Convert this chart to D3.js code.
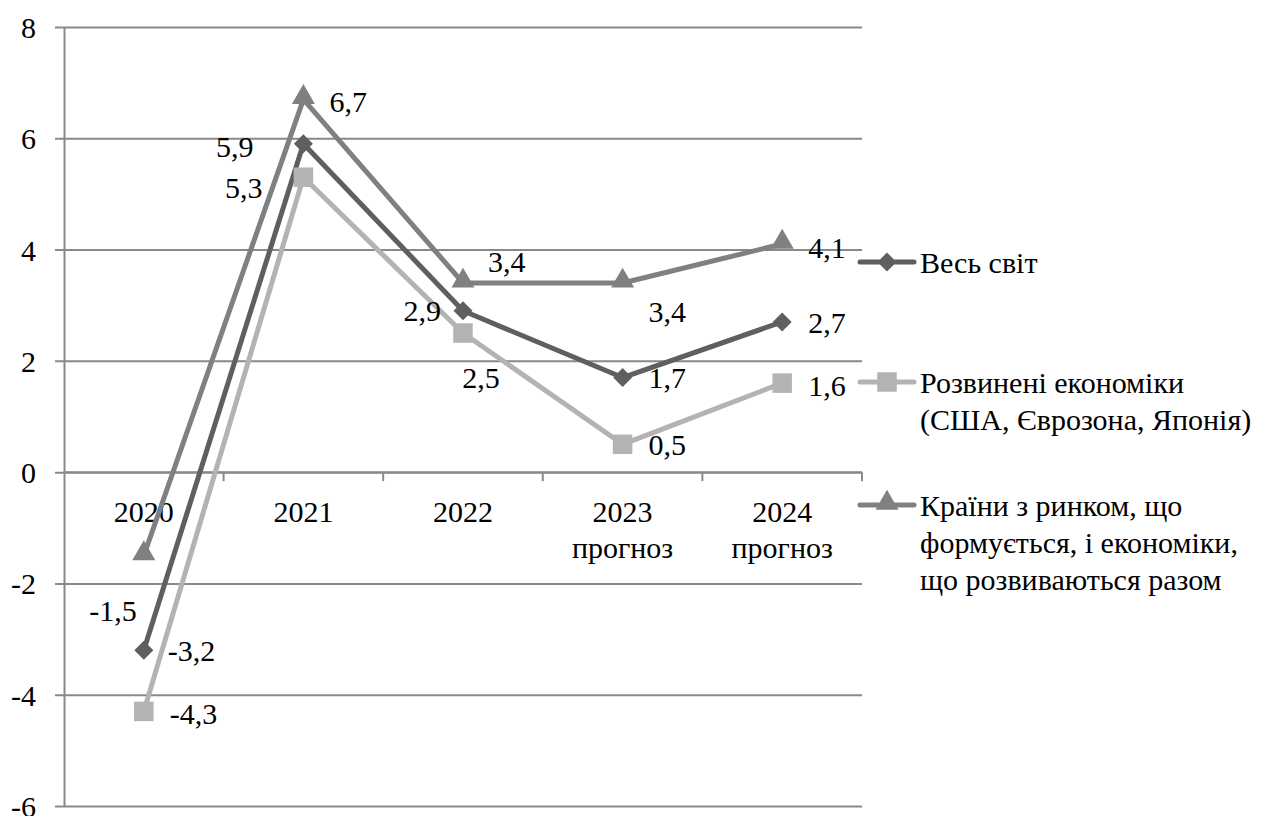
<!DOCTYPE html>
<html>
<head>
<meta charset="utf-8">
<script src="https://cdn.jsdelivr.net/npm/d3@7"></script>
<style>
  body { margin: 0; background: #fff; font-family: "Liberation Serif", Tinos, "Times New Roman", serif; }
  #wrap { width: 1276px; height: 816px; }
  #chart text { font-family: "Liberation Serif", Tinos, "Times New Roman", serif; }
</style>
</head>
<body>
<div id="wrap"><svg id="chart"></svg></div>
<script>
// data
var categories = ["2020", "2021", "2022", "2023", "2024"];
var catSub = ["", "", "", "прогноз", "прогноз"];
var world = [-3.2, 5.9, 2.9, 1.7, 2.7];
var developed = [-4.3, 5.3, 2.5, 0.5, 1.6];
var emerging = [-1.5, 6.7, 3.4, 3.4, 4.1];
var seriesNames = [
  ["Весь світ"],
  ["Розвинені економіки", "(США, Єврозона, Японія)"],
  ["Країни з ринком, що", "формується, і економіки,", "що розвиваються разом"]
];
var yTicks = [-6, -4, -2, 0, 2, 4, 6, 8];

var W = 1276, H = 816;
var plotL = 64, plotR = 862, plotT = 27, plotB = 806;
var FONT = 'Liberation Serif, Tinos, Times New Roman, serif';

var svg = d3.select('#chart').attr('width', W).attr('height', H)
  .attr('font-family', FONT);

function serif(sel) {
  return sel.attr('font-family', FONT).attr('fill', '#000');
}

var x = d3.scaleBand().domain(categories).range([plotL, plotR]);
var y = d3.scaleLinear().domain([-6, 8]).range([plotB, plotT]);

var gridColor = '#898989';

// horizontal gridlines + y labels
svg.append('g').attr('class', 'y-axis')
  .attr('transform', 'translate(' + plotL + ',0)')
  .call(d3.axisLeft(y).tickValues(yTicks).tickSize(-(plotR - plotL)).tickSizeOuter(0)
    .tickFormat(function(d) { return d; }))
  .attr('font-family', FONT)
  .call(function(g) {
    g.select('.domain').attr('stroke', gridColor).attr('stroke-width', 2);
    g.selectAll('.tick line').attr('stroke', gridColor).attr('stroke-width', 2)
      .attr('x1', -9);
    g.selectAll('.tick text').attr('x', -28).attr('font-size', 30)
      .attr('dy', '0.35em').call(serif);
  });

// category axis at y = 0
var xAxis = svg.append('g').attr('class', 'x-axis')
  .attr('transform', 'translate(0,' + y(0) + ')');
xAxis.append('line').attr('x1', plotL).attr('x2', plotR)
  .attr('stroke', gridColor).attr('stroke-width', 2);
var edges = categories.map(function(c) { return x(c); }).concat([plotR]);
xAxis.selectAll('.tk').data(edges.slice(1)).enter().append('line')
  .attr('x1', function(d) { return d; }).attr('x2', function(d) { return d; })
  .attr('y1', 0).attr('y2', 9).attr('stroke', gridColor).attr('stroke-width', 2);
var catLab = xAxis.selectAll('.cat').data(categories).enter().append('text')
  .attr('x', function(d) { return x(d) + x.bandwidth() / 2; })
  .attr('y', 50).attr('text-anchor', 'middle').attr('font-size', 30)
  .call(serif);
catLab.append('tspan').text(function(d) { return d; });
catLab.append('tspan')
  .attr('x', function(d) { return x(d) + x.bandwidth() / 2; })
  .attr('dy', 36).text(function(d, i) { return catSub[i]; });

var cx = function(i) { return x(categories[i]) + x.bandwidth() / 2; };

var series = [
  { values: world, color: '#5f5f5f', shape: 'diamond' },
  { values: developed, color: '#b3b3b3', shape: 'square' },
  { values: emerging, color: '#808080', shape: 'triangle' }
];

// label placement [dx, dy, anchor] per point
var labelPlace = [
  [[24, 0, 'start'], [-50, 3, 'end'], [-22, 0, 'end'], [26, 0, 'start'], [26, 1, 'start']],
  [[26, 2, 'start'], [-41, 10, 'end'], [18, 44, 'middle'], [26, 0, 'start'], [26, 2, 'start']],
  [[-7, 55, 'end'], [26, 2, 'start'], [25, -21, 'start'], [26, 29, 'start'], [26, 3, 'start']]
];

function symbolFor(shape) {
  if (shape === 'diamond') return d3.symbol().type(d3.symbolDiamond2).size(230)();
  if (shape === 'square') return d3.symbol().type(d3.symbolSquare).size(380)();
  return d3.symbol().type(d3.symbolTriangle).size(230)();
}

var line = d3.line().x(function(d, i) { return cx(i); }).y(function(d) { return y(d); });

// draw order: emerging behind, then world, then developed
[2, 0, 1].forEach(function(si) {
  var s = series[si];
  var g = svg.append('g');
  g.append('path').datum(s.values).attr('d', line)
    .attr('fill', 'none').attr('stroke', s.color).attr('stroke-width', 5)
    .attr('stroke-linejoin', 'round');
  g.selectAll('.m').data(s.values).enter().append('path')
    .attr('d', symbolFor(s.shape))
    .attr('transform', function(d, i) {
      var off = s.shape === 'triangle' ? -2 : 0;
      return 'translate(' + cx(i) + ',' + (y(d) + off) + ')';
    })
    .attr('fill', s.color);
});

series.forEach(function(s, si) {
  svg.append('g').selectAll('text').data(s.values).enter().append('text')
    .attr('x', function(d, i) { return cx(i) + labelPlace[si][i][0]; })
    .attr('y', function(d, i) { return y(d) + labelPlace[si][i][1]; })
    .attr('dy', '0.35em')
    .attr('text-anchor', function(d, i) { return labelPlace[si][i][2]; })
    .attr('font-size', 30)
    .call(serif)
    .text(function(d) { return String(d).replace('.', ','); });
});

// legend
var legendY = [262, 382, 505];
series.forEach(function(s, si) {
  var g = svg.append('g').attr('transform', 'translate(860,' + legendY[si] + ')');
  g.append('line').attr('x1', 0).attr('x2', 54).attr('stroke', s.color)
    .attr('stroke-width', 5).attr('stroke-linecap', 'round');
  g.append('path').attr('d', symbolFor(s.shape))
    .attr('transform', 'translate(27,' + (s.shape === 'triangle' ? -2 : 0) + ')')
    .attr('fill', s.color);
  var t = g.append('text').attr('x', 60).attr('y', 0).attr('font-size', 30).call(serif);
  seriesNames[si].forEach(function(ln, k) {
    t.append('tspan').attr('x', 60).attr('dy', k === 0 ? '0.35em' : 37).text(ln);
  });
});
</script>
</body>
</html>
